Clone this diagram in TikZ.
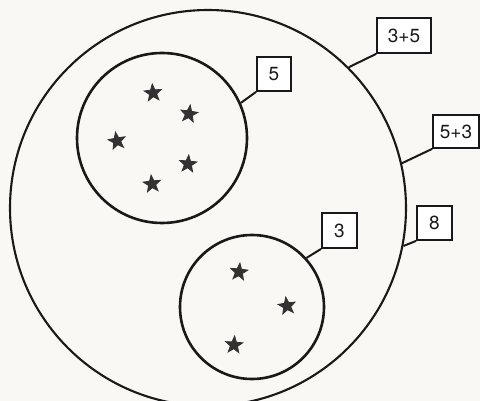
\documentclass[tikz,border=0pt]{standalone}
\usepackage{fontspec}
\setmainfont{TeX Gyre Heros}
\usetikzlibrary{shapes.geometric}
\definecolor{ink}{RGB}{25,25,25}
\definecolor{paper}{RGB}{249,248,245}
\definecolor{stargray}{RGB}{50,50,50}
\begin{document}
\begin{tikzpicture}[x=1pt,y=-1pt,
  ring/.style={circle,draw=ink,line width=2pt,inner sep=0pt},
  tag/.style={draw=ink,line width=1.8pt,fill=white,inner sep=0pt,font=\fontsize{19}{19}\selectfont,text=ink},
  lead/.style={draw=ink,line width=2pt},
  pt/.style={star,star points=5,star point ratio=2.4,fill=stargray,draw=stargray,line width=0.8pt,inner sep=0pt,minimum size=18pt}]
\useasboundingbox (0,0) rectangle (480,401);
\fill[paper] (0,0) rectangle (480,401);
\clip (0,0) rectangle (480,401);
% circles
\node[ring,line width=2.1pt,minimum size=396pt] (all) at (208,208) {};
\node[ring,line width=2.6pt,minimum size=170pt] (five) at (162,138) {};
\node[ring,line width=2.6pt,minimum size=144pt] (three) at (252,307) {};
% stars
\node[pt,rotate=5] (s1) at (153,93) {};
\node[pt,rotate=-8] (s2) at (189,114) {};
\node[pt,rotate=10] (s3) at (117,141) {};
\node[pt,rotate=-5] (s4) at (188,164) {};
\node[pt,rotate=6] (s5) at (152,184) {};
\node[pt,rotate=-6] (s6) at (239,272) {};
\node[pt,rotate=8] (s7) at (287,306) {};
\node[pt,rotate=-4] (s8) at (234,345) {};
% tags
\node[tag,minimum width=54pt,minimum height=35pt] (t35) at (404,35.5) {3+5};
\node[tag,minimum width=46pt,minimum height=33pt] (t53) at (456,131.5) {5+3};
\node[tag,minimum width=35pt,minimum height=34pt] (t8) at (434.5,223) {8};
\node[tag,minimum width=34pt,minimum height=34pt] (t5) at (274,74) {5};
\node[tag,minimum width=35pt,minimum height=35pt] (t3) at (339.5,230.5) {3};
% leaders
\draw[lead] (t35.south west) -- (all.45.6);
\draw[lead] (t53.south west) -- (all.13);
\draw[lead] (t8.south west) -- (all.-11.4);
\draw[lead] (t5.south west) -- (five.24);
\draw[lead] (t3.south west) -- (three.42);
\end{tikzpicture}
\end{document}
